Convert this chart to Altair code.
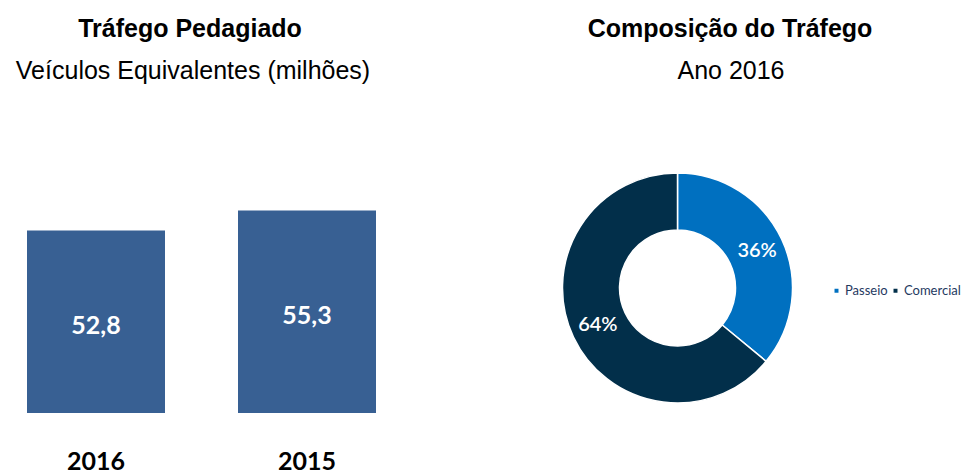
import altair as alt
import pandas as pd

# ---- data ----
anos = ["2016", "2015"]
trafego = [52.8, 55.3]

categorias = ["Passeio", "Comercial"]
participacao = [0.36, 0.64]

titulos = ["Tráfego Pedagiado", "Composição do Tráfego"]
subtitulos = ["Veículos Equivalentes (milhões)", "Ano 2016"]

bar_df = pd.DataFrame({"ano": anos, "valor": trafego})
pie_df = pd.DataFrame({"cat": categorias, "share": participacao, "ordem": [0, 1]})

W, H = 953, 467
BASE = 30


def xs():
    return alt.Scale(type="band", domain=anos, range=[19, 368], paddingInner=0.346, paddingOuter=0)


yscale = alt.Scale(domain=[BASE, 60], range=[405, 165])

bars = alt.Chart(bar_df).mark_bar(color="#386093").encode(
    x=alt.X("ano:N", scale=xs(), axis=None, sort=anos),
    y=alt.Y("valor:Q", scale=yscale, axis=None),
    y2=alt.datum(BASE),
)

bar_labels = alt.Chart(bar_df).transform_calculate(
    mid=f"(datum.valor + {BASE}) / 2",
    txt="replace(format(datum.valor, '.1f'), '.', ',')",
).mark_text(font="Lato", fontWeight="bold", fontSize=25, color="white", baseline="middle", dy=4).encode(
    x=alt.X("ano:N", scale=xs(), axis=None, sort=anos),
    y=alt.Y("mid:Q", scale=yscale, axis=None),
    text="txt:N",
)

year_labels = alt.Chart(bar_df).mark_text(font="Lato", fontWeight="bold", fontSize=25, color="black", baseline="middle").encode(
    x=alt.X("ano:N", scale=xs(), axis=None, sort=anos),
    y=alt.value(454),
    text="ano:N",
)

CX, CY = 669.5, 280
color_scale = alt.Scale(domain=categorias, range=["#0070C0", "#022F4A"])

donut = alt.Chart(pie_df).mark_arc(outerRadius=115, innerRadius=58, stroke="white", strokeWidth=1.5).encode(
    theta=alt.Theta("share:Q", stack=True),
    order=alt.Order("ordem:Q"),
    color=alt.Color("cat:N", scale=color_scale, sort=categorias,
                    legend=alt.Legend(title=None, orient="none", legendX=822, legendY=276,
                                      direction="horizontal", symbolType="square", symbolSize=30,
                                      labelFont="Lato", labelFontSize=13, labelColor="#1F3A5F",
                                      labelOffset=2, columnPadding=1, padding=0)),
    x=alt.value(CX),
    y=alt.value(CY),
)

donut_labels = alt.Chart(pie_df).transform_calculate(
    txt="format(datum.share, '.0%')"
).mark_text(radius=88, font="Lato", fontSize=20, fontWeight=600, color="white", baseline="middle").encode(
    theta=alt.Theta("share:Q", stack=True),
    order=alt.Order("ordem:Q"),
    text="txt:N",
    x=alt.value(CX),
    y=alt.value(CY),
)

title_df = pd.DataFrame({"t": titulos, "xpos": [182, 722]})
sub_df = pd.DataFrame({"t": subtitulos, "xpos": [185, 723]})

titles = alt.Chart(title_df).mark_text(font="Liberation Sans", fontWeight="bold", fontSize=25, color="black", baseline="alphabetic").encode(
    x=alt.X("xpos:Q", scale=alt.Scale(domain=[0, W], range=[0, W]), axis=None),
    y=alt.value(29),
    text="t:N",
)

subs = alt.Chart(sub_df).mark_text(font="Liberation Sans", fontSize=25, color="black", baseline="alphabetic").encode(
    x=alt.X("xpos:Q", scale=alt.Scale(domain=[0, W], range=[0, W]), axis=None),
    y=alt.value(71),
    text="t:N",
)

chart = alt.layer(bars, bar_labels, year_labels, donut, donut_labels, titles, subs).resolve_scale(
    x="independent", y="independent"
).properties(
    width=W, height=H, autosize=alt.AutoSizeParams(type="none"), padding=0, background="white"
).configure_view(stroke=None)

chart.save("out.html", embed_options={"renderer": "svg", "actions": False})
